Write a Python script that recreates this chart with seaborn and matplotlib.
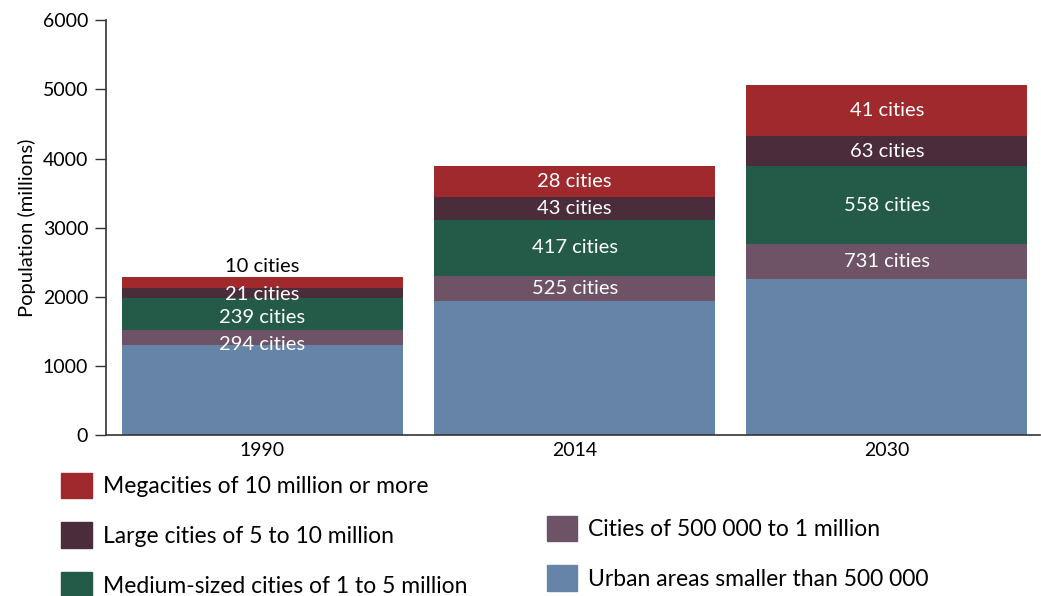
import numpy as np
import pandas as pd
import matplotlib
matplotlib.use("Agg")
import matplotlib.pyplot as plt
import seaborn as sns
from matplotlib.patches import Patch

# Data (population in millions, by city size class)
years = ["1990", "2014", "2030"]
urban_small = [1306, 1942, 2251]      # urban areas smaller than 500 000
cities_500k = [212, 357, 510]         # cities of 500 000 to 1 million
medium = [458, 819, 1132]             # medium-sized cities of 1 to 5 million
large = [154, 319, 430]               # large cities of 5 to 10 million
mega = [150, 452, 737]                # megacities of 10 million or more

city_counts = {
    "cities_500k": ["294 cities", "525 cities", "731 cities"],
    "medium": ["239 cities", "417 cities", "558 cities"],
    "large": ["21 cities", "43 cities", "63 cities"],
    "mega": ["10 cities", "28 cities", "41 cities"],
}

layers = ["urban_small", "cities_500k", "medium", "large", "mega"]
values = {"urban_small": urban_small, "cities_500k": cities_500k,
          "medium": medium, "large": large, "mega": mega}
colors = {"urban_small": "#6584a7", "cities_500k": "#6e5366",
          "medium": "#245b48", "large": "#4a2c3b", "mega": "#a0292d"}
names = {"mega": "Megacities of 10 million or more",
         "large": "Large cities of 5 to 10 million",
         "medium": "Medium-sized cities of 1 to 5 million",
         "cities_500k": "Cities of 500 000 to 1 million",
         "urban_small": "Urban areas smaller than 500 000"}

df = pd.DataFrame(values, index=years)
cum = df[layers].cumsum(axis=1)

sns.set_style("ticks", {"text.color": "black", "axes.labelcolor": "black",
                        "xtick.color": "black", "ytick.color": "black"})
plt.rcParams["font.family"] = ["Lato", "DejaVu Sans"]

fig = plt.figure(figsize=(10.41, 5.96), dpi=100)
ax = fig.add_axes([0.102, 0.270, 0.897, 0.696])

# stacked bars: draw cumulative totals from the top layer down
for layer in layers[::-1]:
    sns.barplot(x=years, y=cum[layer].values, color=colors[layer],
                width=0.9, saturation=1, linewidth=0, ax=ax, zorder=2)

# segment labels (1990 is too thin, so those are nudged a bit)
nudge_1990 = {"mega": 240, "large": -20, "medium": -50, "cities_500k": -95}
for i, yr in enumerate(years):
    for layer in ["cities_500k", "medium", "large", "mega"]:
        top = cum[layer].iloc[i]
        mid = top - df[layer].iloc[i] / 2
        color = "white"
        if yr == "1990":
            mid += nudge_1990[layer]
            if layer == "mega":
                color = "black"
        ax.text(i, mid, city_counts[layer][i], ha="center", va="center",
                color=color, fontsize=14.5)

ax.set_ylim(0, 6000)
ax.set_xlim(-0.5, 2.49)
ax.set_yticks(range(0, 6001, 1000))
ax.set_ylabel("Population (millions)", fontsize=14.5, labelpad=5)
ax.set_xlabel("")
ax.tick_params(axis="y", length=8, width=1, labelsize=14, color="#333333",
               pad=5)
ax.tick_params(axis="x", length=0, labelsize=14, pad=5)
sns.despine(ax=ax)
for s in ["left", "bottom"]:
    ax.spines[s].set_color("#333333")
    ax.spines[s].set_linewidth(1.2)

leg_kw = dict(frameon=False, fontsize=16.5, handlelength=1.35, handleheight=1.35,
              handletextpad=0.45, labelspacing=1.05, borderaxespad=0, borderpad=0)
left = ["mega", "large", "medium"]
right = ["cities_500k", "urban_small"]
fig.legend(handles=[Patch(color=colors[k], label=names[k]) for k in left],
           loc="upper left", bbox_to_anchor=(0.059, 0.207), **leg_kw)
fig.legend(handles=[Patch(color=colors[k], label=names[k]) for k in right],
           loc="upper left", bbox_to_anchor=(0.525, 0.135), **leg_kw)

plt.savefig("out.png", dpi=100)
